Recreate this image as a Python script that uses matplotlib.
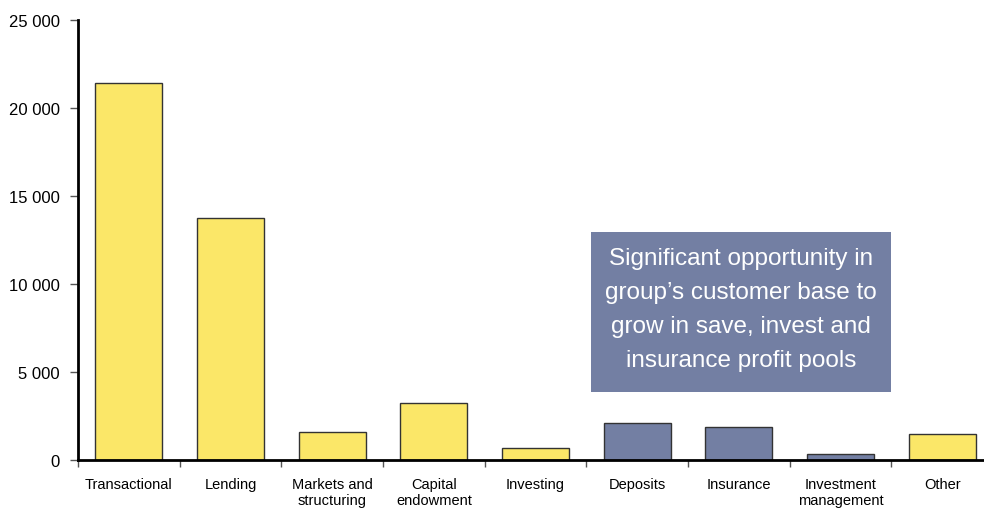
import numpy as np
import matplotlib.pyplot as plt
import matplotlib.patches as mpatches
from matplotlib.ticker import FuncFormatter, FixedLocator

plt.rcParams['font.family'] = ['Liberation Sans', 'DejaVu Sans']

# ===== data =====
categories = ['Transactional', 'Lending', 'Markets and\nstructuring', 'Capital\nendowment',
              'Investing', 'Deposits', 'Insurance', 'Investment\nmanagement', 'Other']
values = [21400, 13750, 1600, 3250, 700, 2100, 1900, 350, 1450]
# save / invest / insurance pools shown in blue
growth_pools = ['Deposits', 'Insurance', 'Investment\nmanagement']

note = ("Significant opportunity in\ngroup\u2019s customer base to\n"
        "grow in save, invest and\ninsurance profit pools")

yellow = '#FBE768'
blue = '#737FA3'

fig = plt.figure(figsize=(9.84, 5.10), dpi=100)
ax = fig.add_axes([78 / 984, 49 / 510, 915 / 984, 440 / 510])

x = np.arange(len(categories))
colors = [blue if c in growth_pools else yellow for c in categories]
ax.bar(x, values, width=0.66, color=colors, edgecolor='#333333', linewidth=1.0, zorder=2)

ax.set_xlim(-0.5, len(categories) - 0.5)
ax.set_ylim(0, 25000)
ax.set_yticks(np.arange(0, 25001, 5000))
ax.yaxis.set_major_formatter(FuncFormatter(lambda v, p: f'{int(v):,}'.replace(',', ' ')))

ax.set_xticks(x)
ax.set_xticklabels(categories, fontsize=10.5, linespacing=1.25)
ax.xaxis.set_minor_locator(FixedLocator(np.arange(-0.5, len(categories), 1.0)))
ax.tick_params(axis='x', which='major', length=0, pad=12)
ax.tick_params(axis='x', which='minor', length=5, width=1, color='#555555')
ax.tick_params(axis='y', length=6, width=1, color='#555555', labelsize=12, pad=7)

for side in ['top', 'right']:
    ax.spines[side].set_visible(False)
for side in ['left', 'bottom']:
    ax.spines[side].set_linewidth(2)
    ax.spines[side].set_color('black')

# ---- annotation box ----
x0, y0, w, h = 591 / 984, 1 - 393 / 510, 300 / 984, 160 / 510
fig.patches.append(mpatches.Rectangle((x0, y0), w, h, transform=fig.transFigure,
                                      facecolor=blue, edgecolor='none', zorder=3))
fig.text(x0 + w / 2, y0 + h / 2 + 0.006, note, ha='center', va='center', color='white',
         fontsize=17.5, linespacing=1.7, zorder=4)

fig.savefig('out.png', dpi=100)
